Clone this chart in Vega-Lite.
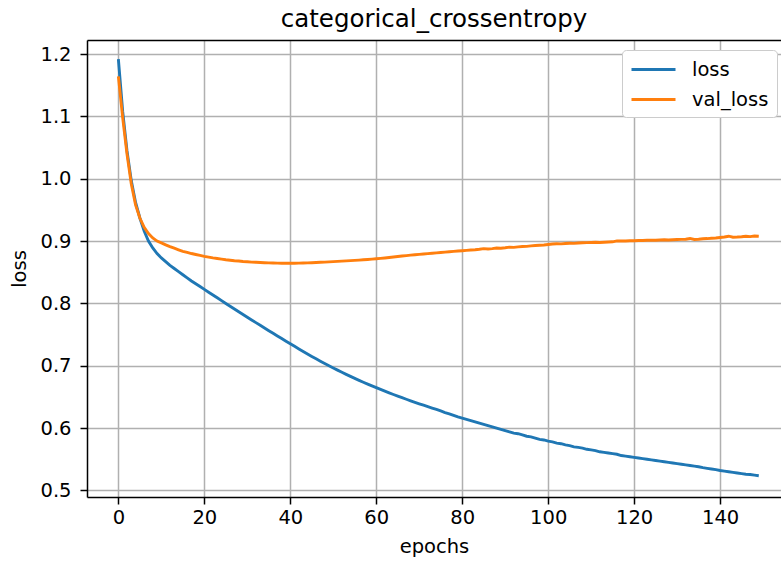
{
  "$schema": "https://vega.github.io/schema/vega-lite/v6.json",
  "width": 694,
  "height": 457,
  "autosize": {"type": "none"},
  "padding": {"left": 87, "top": 40, "right": 0, "bottom": 66},
  "background": "white",
  "title": {"text": "categorical_crossentropy", "fontSize": 24.5, "font": "DejaVu Sans", "fontWeight": "normal", "color": "black", "offset": 8, "anchor": "middle"},
  "data": {"values": [
    {"epoch":0,"loss":1.192,"val_loss":1.164},{"epoch":1,"loss":1.108,"val_loss":1.098},{"epoch":2,"loss":1.045,"val_loss":1.040},{"epoch":3,"loss":0.997,"val_loss":0.992},{"epoch":4,"loss":0.962,"val_loss":0.958},
    {"epoch":5,"loss":0.937,"val_loss":0.937},{"epoch":6,"loss":0.916,"val_loss":0.922},{"epoch":7,"loss":0.900,"val_loss":0.912},{"epoch":8,"loss":0.889,"val_loss":0.905},{"epoch":9,"loss":0.880,"val_loss":0.900},
    {"epoch":10,"loss":0.873,"val_loss":0.897},{"epoch":11,"loss":0.867,"val_loss":0.894},{"epoch":12,"loss":0.861,"val_loss":0.891},{"epoch":13,"loss":0.856,"val_loss":0.8885},{"epoch":14,"loss":0.851,"val_loss":0.886},
    {"epoch":15,"loss":0.846,"val_loss":0.8836},{"epoch":16,"loss":0.841,"val_loss":0.8818},{"epoch":17,"loss":0.836,"val_loss":0.880},{"epoch":18,"loss":0.8315,"val_loss":0.8785},{"epoch":19,"loss":0.827,"val_loss":0.877},
    {"epoch":20,"loss":0.8225,"val_loss":0.8755},{"epoch":21,"loss":0.818,"val_loss":0.8743},{"epoch":22,"loss":0.8135,"val_loss":0.873},{"epoch":23,"loss":0.809,"val_loss":0.872},{"epoch":24,"loss":0.8045,"val_loss":0.871},
    {"epoch":25,"loss":0.800,"val_loss":0.870},{"epoch":26,"loss":0.7955,"val_loss":0.8693},{"epoch":27,"loss":0.791,"val_loss":0.8685},{"epoch":28,"loss":0.7866,"val_loss":0.868},{"epoch":29,"loss":0.7822,"val_loss":0.8673},
    {"epoch":30,"loss":0.7778,"val_loss":0.8668},{"epoch":31,"loss":0.7735,"val_loss":0.8663},{"epoch":32,"loss":0.7692,"val_loss":0.866},{"epoch":33,"loss":0.7649,"val_loss":0.8657},{"epoch":34,"loss":0.7606,"val_loss":0.8653},
    {"epoch":35,"loss":0.7563,"val_loss":0.865},{"epoch":36,"loss":0.752,"val_loss":0.8648},{"epoch":37,"loss":0.7478,"val_loss":0.8646},{"epoch":38,"loss":0.7436,"val_loss":0.8645},{"epoch":39,"loss":0.7394,"val_loss":0.8644},
    {"epoch":40,"loss":0.7352,"val_loss":0.8644},{"epoch":41,"loss":0.7311,"val_loss":0.8645},{"epoch":42,"loss":0.727,"val_loss":0.8646},{"epoch":43,"loss":0.723,"val_loss":0.8648},{"epoch":44,"loss":0.719,"val_loss":0.865},
    {"epoch":45,"loss":0.715,"val_loss":0.8653},{"epoch":46,"loss":0.7111,"val_loss":0.8656},{"epoch":47,"loss":0.7073,"val_loss":0.866},{"epoch":48,"loss":0.7036,"val_loss":0.8663},{"epoch":49,"loss":0.700,"val_loss":0.8667},
    {"epoch":50,"loss":0.6965,"val_loss":0.867},{"epoch":51,"loss":0.693,"val_loss":0.8674},{"epoch":52,"loss":0.6896,"val_loss":0.8678},{"epoch":53,"loss":0.6862,"val_loss":0.8682},{"epoch":54,"loss":0.6829,"val_loss":0.8686},
    {"epoch":55,"loss":0.6797,"val_loss":0.869},{"epoch":56,"loss":0.6766,"val_loss":0.8695},{"epoch":57,"loss":0.6736,"val_loss":0.870},{"epoch":58,"loss":0.6706,"val_loss":0.8705},{"epoch":59,"loss":0.6677,"val_loss":0.871},
    {"epoch":60,"loss":0.6648,"val_loss":0.8716},{"epoch":61,"loss":0.662,"val_loss":0.8722},{"epoch":62,"loss":0.6592,"val_loss":0.8729},{"epoch":63,"loss":0.6565,"val_loss":0.8737},{"epoch":64,"loss":0.6539,"val_loss":0.8744},
    {"epoch":65,"loss":0.6513,"val_loss":0.8752},{"epoch":66,"loss":0.6488,"val_loss":0.876},{"epoch":67,"loss":0.6463,"val_loss":0.8767},{"epoch":68,"loss":0.6438,"val_loss":0.8774},{"epoch":69,"loss":0.6414,"val_loss":0.8781},
    {"epoch":70,"loss":0.639,"val_loss":0.8787},{"epoch":71,"loss":0.6367,"val_loss":0.8793},{"epoch":72,"loss":0.6345,"val_loss":0.8798},{"epoch":73,"loss":0.6322,"val_loss":0.8804},{"epoch":74,"loss":0.630,"val_loss":0.881},
    {"epoch":75,"loss":0.6275,"val_loss":0.8816},{"epoch":76,"loss":0.625,"val_loss":0.8822},{"epoch":77,"loss":0.623,"val_loss":0.8828},{"epoch":78,"loss":0.6205,"val_loss":0.8834},{"epoch":79,"loss":0.618,"val_loss":0.884},
    {"epoch":80,"loss":0.616,"val_loss":0.8845},{"epoch":81,"loss":0.614,"val_loss":0.885},{"epoch":82,"loss":0.612,"val_loss":0.8856},{"epoch":83,"loss":0.610,"val_loss":0.886},{"epoch":84,"loss":0.608,"val_loss":0.8868},
    {"epoch":85,"loss":0.606,"val_loss":0.8878},{"epoch":86,"loss":0.604,"val_loss":0.8874},{"epoch":87,"loss":0.602,"val_loss":0.8879},{"epoch":88,"loss":0.600,"val_loss":0.8888},{"epoch":89,"loss":0.598,"val_loss":0.8886},
    {"epoch":90,"loss":0.596,"val_loss":0.8893},{"epoch":91,"loss":0.594,"val_loss":0.8902},{"epoch":92,"loss":0.592,"val_loss":0.8899},{"epoch":93,"loss":0.591,"val_loss":0.8906},{"epoch":94,"loss":0.589,"val_loss":0.8912},
    {"epoch":95,"loss":0.587,"val_loss":0.8915},{"epoch":96,"loss":0.586,"val_loss":0.8922},{"epoch":97,"loss":0.584,"val_loss":0.8928},{"epoch":98,"loss":0.582,"val_loss":0.8933},{"epoch":99,"loss":0.581,"val_loss":0.8938},
    {"epoch":100,"loss":0.579,"val_loss":0.8945},{"epoch":101,"loss":0.578,"val_loss":0.8952},{"epoch":102,"loss":0.576,"val_loss":0.8958},{"epoch":103,"loss":0.575,"val_loss":0.8955},{"epoch":104,"loss":0.573,"val_loss":0.8962},
    {"epoch":105,"loss":0.572,"val_loss":0.8966},{"epoch":106,"loss":0.570,"val_loss":0.8963},{"epoch":107,"loss":0.569,"val_loss":0.8968},{"epoch":108,"loss":0.568,"val_loss":0.8972},{"epoch":109,"loss":0.566,"val_loss":0.8975},
    {"epoch":110,"loss":0.565,"val_loss":0.8978},{"epoch":111,"loss":0.564,"val_loss":0.898},{"epoch":112,"loss":0.562,"val_loss":0.8978},{"epoch":113,"loss":0.561,"val_loss":0.8982},{"epoch":114,"loss":0.560,"val_loss":0.8985},
    {"epoch":115,"loss":0.559,"val_loss":0.8988},{"epoch":116,"loss":0.558,"val_loss":0.9003},{"epoch":117,"loss":0.556,"val_loss":0.9},{"epoch":118,"loss":0.555,"val_loss":0.9002},{"epoch":119,"loss":0.554,"val_loss":0.9004},
    {"epoch":120,"loss":0.553,"val_loss":0.9006},{"epoch":121,"loss":0.552,"val_loss":0.9008},{"epoch":122,"loss":0.551,"val_loss":0.901},{"epoch":123,"loss":0.550,"val_loss":0.9012},{"epoch":124,"loss":0.549,"val_loss":0.9015},
    {"epoch":125,"loss":0.548,"val_loss":0.9013},{"epoch":126,"loss":0.547,"val_loss":0.9017},{"epoch":127,"loss":0.546,"val_loss":0.902},{"epoch":128,"loss":0.545,"val_loss":0.9018},{"epoch":129,"loss":0.544,"val_loss":0.9022},
    {"epoch":130,"loss":0.543,"val_loss":0.9025},{"epoch":131,"loss":0.542,"val_loss":0.9027},{"epoch":132,"loss":0.541,"val_loss":0.903},{"epoch":133,"loss":0.540,"val_loss":0.9042},{"epoch":134,"loss":0.539,"val_loss":0.9025},
    {"epoch":135,"loss":0.538,"val_loss":0.903},{"epoch":136,"loss":0.5365,"val_loss":0.9038},{"epoch":137,"loss":0.5355,"val_loss":0.904},{"epoch":138,"loss":0.5345,"val_loss":0.9045},{"epoch":139,"loss":0.5335,"val_loss":0.905},
    {"epoch":140,"loss":0.532,"val_loss":0.9058},{"epoch":141,"loss":0.531,"val_loss":0.9065},{"epoch":142,"loss":0.530,"val_loss":0.9078},{"epoch":143,"loss":0.529,"val_loss":0.9062},{"epoch":144,"loss":0.528,"val_loss":0.9065},
    {"epoch":145,"loss":0.527,"val_loss":0.907},{"epoch":146,"loss":0.526,"val_loss":0.9078},{"epoch":147,"loss":0.5255,"val_loss":0.9072},{"epoch":148,"loss":0.5245,"val_loss":0.9082},{"epoch":149,"loss":0.5235,"val_loss":0.9078}
  ]},
  "transform": [{"fold": ["loss", "val_loss"], "as": ["series", "value"]}],
  "config": {
    "view": {"stroke": null},
    "font": "DejaVu Sans",
    "axis": {
      "domainColor": "black", "domainWidth": 1.5,
      "tickColor": "black", "tickWidth": 1.5, "tickSize": 7,
      "labelFont": "DejaVu Sans", "labelFontSize": 19.5, "labelColor": "black",
      "titleFont": "DejaVu Sans", "titleFontSize": 19.5, "titleFontWeight": "normal", "titleColor": "black",
      "gridColor": "#b0b0b0", "gridWidth": 1.5, "gridOpacity": 1
    }
  },
  "layer": [
    {
      "transform": [{"filter": "datum.series == 'loss'"}],
      "mark": {"type": "line", "strokeWidth": 2.9},
      "encoding": {
        "x": {"field": "epoch", "type": "quantitative", "scale": {"domain": [-7.3, 154.17], "nice": false, "zero": false},
              "axis": {"orient": "bottom", "values": [0, 20, 40, 60, 80, 100, 120, 140], "title": "epochs", "labelPadding": 4, "titlePadding": 11, "grid": true}},
        "y": {"field": "value", "type": "quantitative", "scale": {"domain": [0.4895, 1.2225], "nice": false, "zero": false},
              "axis": {"orient": "left", "values": [0.5, 0.6, 0.7, 0.8, 0.9, 1.0, 1.1, 1.2], "format": ".1f", "title": "loss", "labelPadding": 9, "titlePadding": 10, "grid": true}},
        "color": {"field": "series", "type": "nominal",
                  "scale": {"domain": ["loss", "val_loss"], "range": ["#1f77b4", "#ff7f0e"]},
                  "legend": {"title": null, "orient": "none", "legendX": 535, "legendY": 10,
                             "fillColor": "white", "strokeColor": "#cccccc", "cornerRadius": 4, "padding": 8,
                             "symbolType": "M-2.2,0H2.2", "symbolSize": 400, "symbolStrokeWidth": 2.9, "symbolOffset": 12,
                             "labelFont": "DejaVu Sans", "labelFontSize": 19.5, "labelColor": "black", "labelOffset": 27, "rowPadding": 9}}
      }
    },
    {
      "transform": [{"filter": "datum.series == 'val_loss'"}],
      "mark": {"type": "line", "strokeWidth": 2.9},
      "encoding": {
        "x": {"field": "epoch", "type": "quantitative",
              "axis": {"orient": "top", "labels": false, "ticks": false, "domain": true, "grid": false, "title": null}},
        "y": {"field": "value", "type": "quantitative", "axis": null},
        "color": {"field": "series", "type": "nominal"}
      }
    }
  ],
  "resolve": {"axis": {"x": "independent", "y": "independent"}}
}
